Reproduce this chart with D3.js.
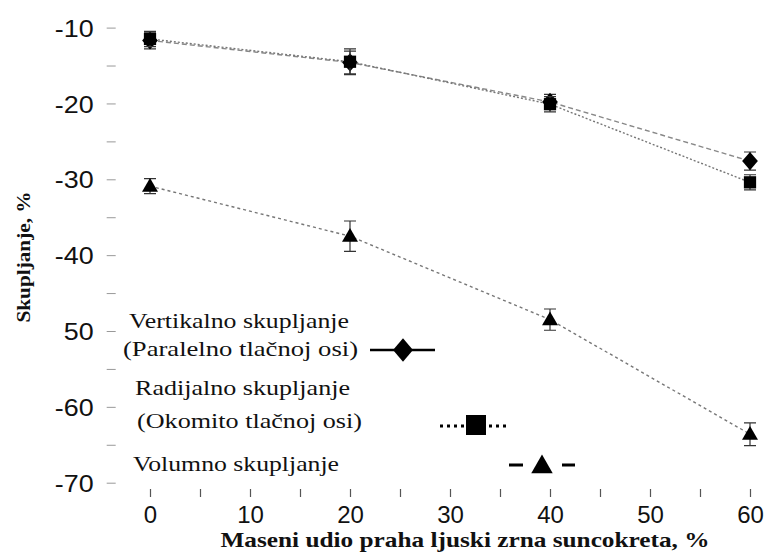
<!DOCTYPE html>
<html>
<head>
<meta charset="utf-8">
<script src="https://d3js.org/d3.v7.min.js"></script>
<style>
  body { margin: 0; background: #fff; }
  svg { display: block; }
</style>
</head>
<body>
<div id="chart"></div>
<script>
// data
const xValues = [0, 20, 40, 60];
const vertikalno = [-11.7, -14.6, -19.8, -27.6];
const vertikalnoErr = [1.1, 1.5, 1.0, 1.2];
const radijalno = [-11.5, -14.5, -20.1, -30.4];
const radijalnoErr = [1.0, 1.7, 1.0, 1.0];
const volumno = [-30.9, -37.5, -48.5, -63.6];
const volumnoErr = [1.0, 2.0, 1.4, 1.5];
const xTicks = [0, 10, 20, 30, 40, 50, 60];
const yTicks = [-10, -20, -30, -40, -50, -60, -70];
const yTickLabels = ["-10", "-20", "-30", "-40", "50", "-60", "-70"];
const xTitle = "Maseni udio praha ljuski zrna suncokreta, %";
const yTitle = "Skupljanje, %";

var width = 774, height = 553;

var svg = d3.select("#chart")
  .append("svg")
  .attr("width", width)
  .attr("height", height);

// scales
var x = d3.scaleLinear().domain([0, 60]).range([150, 750]);
var y = d3.scaleLinear().domain([-70, -10]).range([482.7, 27.6]);

var left = x(-4.33), right = width + 5, top = 15, bottom = 497;

// minor ticks (inward)
var xMinor = d3.range(0, 61, 5);
var yMinor = d3.range(-70, -9, 5);

var xAxisTicks = d3.axisBottom(x).tickValues(xMinor).tickSize(-8).tickFormat("");
svg.append("g")
  .attr("transform", "translate(0," + bottom + ")")
  .call(xAxisTicks)
  .call(g => g.select(".domain").remove())
  .call(g => g.selectAll("line").attr("stroke", "#555").attr("stroke-width", 1.2));

var yAxisTicks = d3.axisLeft(y).tickValues(yMinor).tickSize(-9).tickFormat("");
svg.append("g")
  .attr("transform", "translate(" + left + ",0)")
  .call(yAxisTicks)
  .call(g => g.select(".domain").remove())
  .call(g => g.selectAll("line").attr("stroke", "#999").attr("stroke-width", 1));

// tick labels
var xLabels = d3.axisBottom(x).tickValues(xTicks).tickSize(0).tickPadding(0).tickFormat(d3.format("d"));
svg.append("g")
  .attr("transform", "translate(0," + bottom + ")")
  .call(xLabels)
  .call(g => g.select(".domain").remove())
  .call(g => g.selectAll("text")
    .attr("dy", null)
    .attr("y", 26)
    .attr("fill", "#111")
    .style("font-family", "'Liberation Sans', Arial, sans-serif")
    .style("font-size", "24px"));

var yLabels = d3.axisLeft(y).tickValues(yTicks).tickSize(0).tickPadding(13)
  .tickFormat((d, i) => yTickLabels[i]);
svg.append("g")
  .attr("transform", "translate(" + left + ",0)")
  .call(yLabels)
  .call(g => g.select(".domain").remove())
  .call(g => g.selectAll("text")
    .attr("fill", "#111")
    .attr("dy", "0.36em")
    .style("font-family", "'Liberation Sans', Arial, sans-serif")
    .style("font-size", "24px")
    .each(function () {
      // the labels look a little stretched sideways
      var w = this.getComputedTextLength();
      d3.select(this).attr("textLength", w * 1.12).attr("lengthAdjust", "spacingAndGlyphs");
    }));

// frame: left, top, bottom
svg.append("path")
  .attr("d", "M" + right + "," + top + "H" + left + "V" + bottom + "H" + right)
  .attr("fill", "none")
  .attr("stroke", "#111")
  .attr("stroke-width", 3);

// titles
svg.append("text")
  .attr("x", 465)
  .attr("y", 547)
  .attr("text-anchor", "middle")
  .attr("fill", "#111")
  .attr("textLength", 489)
  .attr("lengthAdjust", "spacingAndGlyphs")
  .style("font-family", "'Liberation Serif', 'Times New Roman', serif")
  .style("font-weight", "bold")
  .style("font-size", "21px")
  .text(xTitle);

svg.append("text")
  .attr("transform", "translate(30,257) rotate(-90)")
  .attr("text-anchor", "middle")
  .attr("fill", "#111")
  .attr("textLength", 131)
  .attr("lengthAdjust", "spacingAndGlyphs")
  .style("font-family", "'Liberation Serif', 'Times New Roman', serif")
  .style("font-weight", "bold")
  .style("font-size", "18px")
  .text(yTitle);

// series
var series = [
  { name: "vert", values: vertikalno, err: vertikalnoErr, dash: "5,3", color: "#888", symbol: d3.symbolDiamond },
  { name: "rad", values: radijalno, err: radijalnoErr, dash: "2,2", color: "#777", symbol: d3.symbolSquare },
  { name: "vol", values: volumno, err: volumnoErr, dash: "3,3", color: "#777", symbol: d3.symbolTriangle }
];

var line = d3.line()
  .x(d => x(d.x))
  .y(d => y(d.y));

series.forEach(function (s) {
  var pts = xValues.map((xv, i) => ({ x: xv, y: s.values[i], e: s.err[i] }));

  svg.append("path")
    .datum(pts)
    .attr("d", line)
    .attr("fill", "none")
    .attr("stroke", s.color)
    .attr("stroke-width", 1.4)
    .attr("stroke-dasharray", s.dash);

  var g = svg.append("g");
  // error bars
  g.selectAll(".eb")
    .data(pts)
    .enter()
    .append("path")
    .attr("d", d => {
      var cx = x(d.x), y1 = y(d.y + d.e), y2 = y(d.y - d.e);
      return "M" + (cx - 6) + "," + y1 + "H" + (cx + 6) +
        "M" + cx + "," + y1 + "V" + y2 +
        "M" + (cx - 6) + "," + y2 + "H" + (cx + 6);
    })
    .attr("fill", "none")
    .attr("stroke", "#333")
    .attr("stroke-width", 1.2);

  // markers
  g.selectAll(".mk")
    .data(pts)
    .enter()
    .append("path")
    .attr("d", d3.symbol().type(s.symbol).size(s.name == "vol" ? 110 : 150))
    .attr("transform", d => {
      var ty = s.name == "vol" ? y(d.y) + 1 : y(d.y);
      return "translate(" + x(d.x) + "," + ty + ")" + (s.name == "vert" ? " scale(1.2,0.8)" : "");
    })
    .attr("fill", "#000");
});

// legend
var legendFont = "'Liberation Serif', 'Times New Roman', serif";
var legendText = [
  { t: "Vertikalno skupljanje", x: 129, y: 328, w: 220 },
  { t: "(Paralelno tlačnoj osi)", x: 123, y: 356, w: 235 },
  { t: "Radijalno skupljanje", x: 135, y: 395, w: 215 },
  { t: "(Okomito tlačnoj osi)", x: 137, y: 428, w: 225 },
  { t: "Volumno skupljanje", x: 133, y: 471, w: 206 }
];
svg.selectAll(".leg")
  .data(legendText)
  .enter()
  .append("text")
  .attr("x", d => d.x)
  .attr("y", d => d.y)
  .attr("textLength", d => d.w)
  .attr("lengthAdjust", "spacingAndGlyphs")
  .attr("fill", "#111")
  .style("font-family", legendFont)
  .style("font-size", "22px")
  .text(d => d.t);

// legend symbols
svg.append("line")
  .attr("x1", 370).attr("x2", 435).attr("y1", 350).attr("y2", 350)
  .attr("stroke", "#000").attr("stroke-width", 2.5);
svg.append("path")
  .attr("d", d3.symbol().type(d3.symbolDiamond).size(220))
  .attr("transform", "translate(403,350) scale(1.25,0.85)")
  .attr("fill", "#000");

svg.append("line")
  .attr("x1", 440).attr("x2", 508).attr("y1", 426).attr("y2", 426)
  .attr("stroke", "#000").attr("stroke-width", 3).attr("stroke-dasharray", "3,4");
svg.append("path")
  .attr("d", d3.symbol().type(d3.symbolSquare).size(400))
  .attr("transform", "translate(476,425)")
  .attr("fill", "#000");

svg.append("line")
  .attr("x1", 509).attr("x2", 575).attr("y1", 465).attr("y2", 465)
  .attr("stroke", "#000").attr("stroke-width", 3).attr("stroke-dasharray", "14,39,14");
svg.append("path")
  .attr("d", d3.symbol().type(d3.symbolTriangle).size(200))
  .attr("transform", "translate(542,467)")
  .attr("fill", "#000");
</script>
</body>
</html>
